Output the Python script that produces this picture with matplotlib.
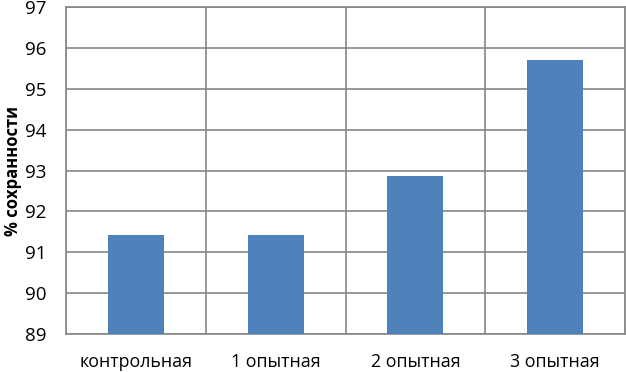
import matplotlib.pyplot as plt
import numpy as np

plt.rcParams['font.family'] = ['Open Sans', 'DejaVu Sans']

# данные
groups = ['контрольная', '1 опытная', '2 опытная', '3 опытная']
survival = [91.43, 91.43, 92.86, 95.71]
yticks = [89, 90, 91, 92, 93, 94, 95, 96, 97]

fig = plt.figure(figsize=(6.26, 3.72), dpi=100)
ax = fig.add_axes([66 / 626, 38 / 372, 559 / 626, 327 / 372])

x = np.arange(len(groups))
ax.bar(x, [v - 89 for v in survival], bottom=89, width=0.4, color='#4F81BD', zorder=3)

ax.set_xlim(-0.5, len(groups) - 0.5)
ax.set_ylim(89, 97)
ax.set_yticks(yticks)
ax.set_xticks(x)
ax.set_xticklabels(groups, fontsize=12.8)
ax.tick_params(axis='y', labelsize=13.5, length=0, pad=14)
ax.tick_params(axis='x', length=0, pad=14)

# вертикальные линии между группами
for b in np.arange(-0.5, len(groups), 1.0):
    ax.axvline(b, color='#868686', lw=1.2, zorder=1)
ax.yaxis.grid(True, color='#868686', lw=1.2, zorder=1)

for s in ax.spines.values():
    s.set_color('#868686')
    s.set_linewidth(1.2)

ax.set_ylabel('% сохранности', fontsize=12, fontweight='bold', labelpad=2)

fig.savefig('out.png', dpi=100)
